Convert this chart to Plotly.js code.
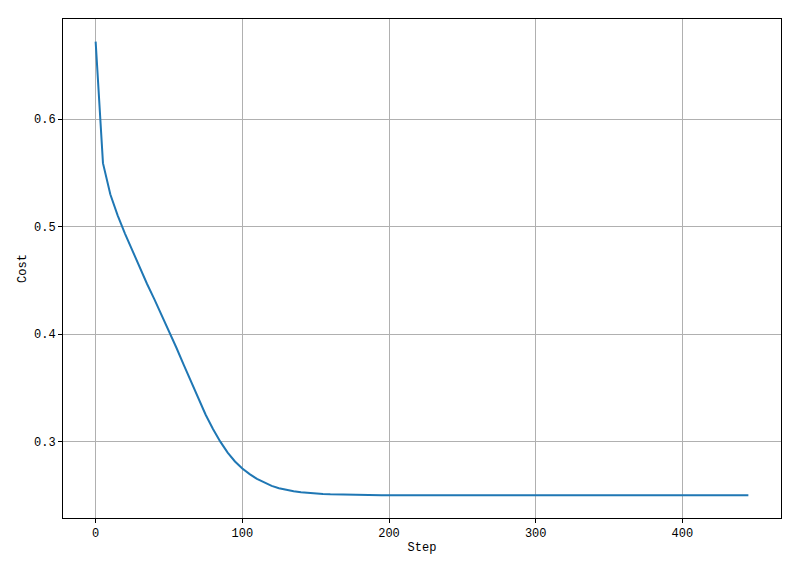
<!DOCTYPE html>
<html>
<head>
<meta charset="utf-8">
<script src="https://cdn.plot.ly/plotly-3.0.1.min.js"></script>
<style>html,body{margin:0;padding:0;background:#fff;}#chart{width:800px;height:570px;}</style>
</head>
<body>
<div id="chart"></div>
<script>
// Steps sampled every 5
const steps = [0,5,10,15,20,25,30,35,40,45,50,55,60,65,70,75,80,85,90,95,100,105,110,115,120,125,130,135,140,145,150,155,160,165,170,175,180,185,190,195,200,205,210,215,220,225,230,235,240,245,250,255,260,265,270,275,280,285,290,295,300,305,310,315,320,325,330,335,340,345,350,355,360,365,370,375,380,385,390,395,400,405,410,415,420,425,430,435,440,445];
const cost = [0.672,0.559,0.530,0.5105,0.4935,0.4775,0.4620,0.4468,0.4325,0.4180,0.4030,0.3875,0.3715,0.3555,0.3397,0.3250,0.3117,0.2999,0.2897,0.2815,0.2750,0.2697,0.2653,0.2617,0.2588,0.2566,0.2549,0.2537,0.2528,0.2521,0.2516,0.2512,0.2509,0.2507,0.2505,0.2504,0.2503,0.2502,0.2501,0.2501,0.2500,0.2500,0.2500,0.2500,0.2500,0.2500,0.2500,0.2500,0.2500,0.2500,0.2500,0.2500,0.2500,0.2500,0.2500,0.2500,0.2500,0.2500,0.2500,0.2500,0.2500,0.2500,0.2500,0.2500,0.2500,0.2500,0.2500,0.2500,0.2500,0.2500,0.2500,0.2500,0.2500,0.2500,0.2500,0.2500,0.2500,0.2500,0.2500,0.2500,0.2500,0.2500,0.2500,0.2500,0.2500,0.2500,0.2500,0.2500,0.2500,0.2500];
const xTicks = [0,100,200,300,400];
const yTicks = [0.3,0.4,0.5,0.6];
const yTickLabels = ["0.3","0.4","0.5","0.6"];

const font = {family: "Liberation Mono, DejaVu Sans Mono, monospace", size: 12, color: "#000"};

Plotly.newPlot("chart", [{
  x: steps, y: cost, type: "scatter", mode: "lines",
  line: {color: "#1f77b4", width: 2, shape: "linear"}, hoverinfo: "skip"
}], {
  width: 800, height: 570,
  margin: {l: 63, r: 19, t: 19, b: 52},
  paper_bgcolor: "#fff", plot_bgcolor: "#fff",
  font: font,
  showlegend: false,
  xaxis: {
    range: [-22.25, 467.25], tickvals: xTicks, ticktext: xTicks.map(String),
    showgrid: true, gridcolor: "#b0b0b0", gridwidth: 1,
    zeroline: false, showline: true, linecolor: "#000", linewidth: 1, mirror: true,
    ticks: "outside", ticklen: 4, tickcolor: "#000", tickfont: font,
    title: {text: "Step", font: font, standoff: 2}
  },
  yaxis: {
    range: [0.2289, 0.6931], tickvals: yTicks, ticktext: yTickLabels,
    showgrid: true, gridcolor: "#b0b0b0", gridwidth: 1,
    zeroline: false, showline: true, linecolor: "#000", linewidth: 1, mirror: true,
    ticks: "outside", ticklen: 4, tickcolor: "#000", tickfont: font,
    title: {text: "Cost", font: font, standoff: 4}
  }
}, {staticPlot: true});
</script>
</body>
</html>
